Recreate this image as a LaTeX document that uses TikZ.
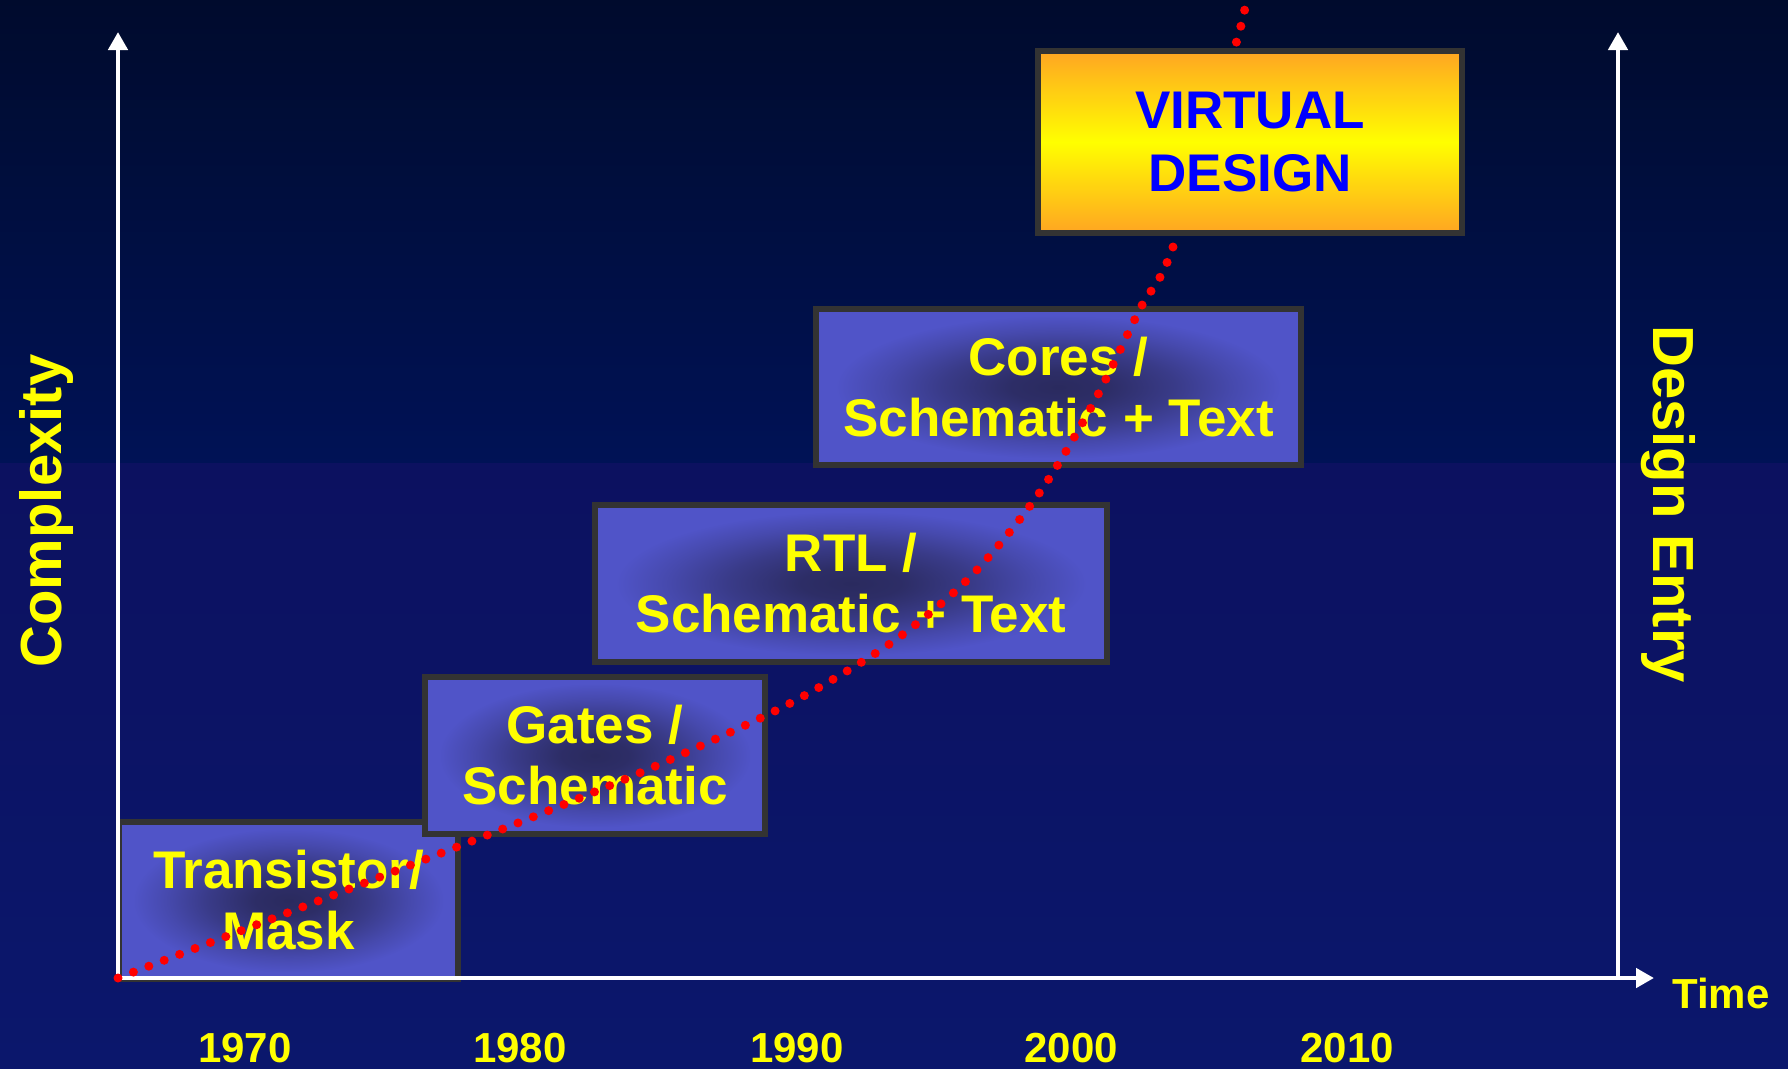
\documentclass[tikz,border=0pt]{standalone}
\usepackage{fontspec}
\setmainfont{Liberation Sans}
\usetikzlibrary{arrows.meta}

% palette
\definecolor{bgtop}{HTML}{000B2D}
\definecolor{bgmid}{HTML}{001256}
\definecolor{bglow}{HTML}{0C1160}
\definecolor{bgbot}{HTML}{0B176C}
\definecolor{boxedge}{HTML}{5054C8}
\definecolor{boxcore}{HTML}{2A2A5E}
\colorlet{boxinner}{boxcore!92!boxedge}
\colorlet{boxmid}{boxcore!60!boxedge}
\colorlet{boxouter}{boxcore!25!boxedge}
\definecolor{frame}{HTML}{333333}
\definecolor{vorange}{HTML}{FFA522}
\definecolor{labelyellow}{HTML}{FFFF00}
\definecolor{vblue}{HTML}{0000FF}
\definecolor{dotred}{HTML}{FF0000}

% soft dark centre of the stage boxes
\pgfdeclareradialshading{boxglow}{\pgfpoint{0bp}{0bp}}{%
  color(0bp)=(boxcore); color(5bp)=(boxinner); color(12bp)=(boxmid);
  color(18bp)=(boxouter); color(23bp)=(boxedge); color(50bp)=(boxedge)}

\tikzset{
  stagebox/.style={draw=frame, line width=6pt, shading=boxglow,
    text=labelyellow, align=center, inner sep=0pt,
    font=\fontsize{53}{61}\selectfont\bfseries},
  goalbox/.style={draw=frame, line width=6pt,
    top color=vorange, bottom color=vorange, middle color=labelyellow,
    text=vblue, align=center, inner sep=0pt,
    font=\fontsize{53}{63}\selectfont\bfseries},
  axisline/.style={draw=white, line width=4.5pt,
    -{Triangle[length=18pt,width=19pt]}},
  axislabel/.style={text=labelyellow, inner sep=0pt,
    font=\fontsize{58}{64}\selectfont\bfseries},
  yearlabel/.style={text=labelyellow, inner sep=0pt, anchor=base,
    font=\fontsize{42}{48}\selectfont\bfseries},
  trend/.style={draw=dotred, line width=9pt, line cap=round,
    dash pattern=on 0pt off 16.5pt}
}

\begin{document}
\begin{tikzpicture}[x=1pt, y=-1pt]
  \useasboundingbox (0,0) rectangle (1788,1068);

  % background
  \shade[top color=bgtop, bottom color=bgmid] (0,0) rectangle (1788,464);
  \shade[top color=bglow, bottom color=bgbot] (0,463) rectangle (1788,1068);

  % design-entry stages
  \node[stagebox, minimum width=339pt, minimum height=157pt] (mask) at (288.5,900.5) {Transistor/\\Mask};
  \node[stagebox, minimum width=340pt, minimum height=157pt] (gates) at (595,755.5) {Gates /\\Schematic};
  \node[stagebox, minimum width=512pt, minimum height=157pt] (rtl) at (851,583.5) {RTL /\\Schematic + Text};
  \node[stagebox, minimum width=485pt, minimum height=156pt] (cores) at (1058.5,387) {Cores /\\Schematic + Text};

  % axes
  \coordinate (origin) at (118,978);
  \coordinate (ytop) at (118,32);
  \coordinate (xend) at (1654,978);
  \coordinate (rbase) at (1618,978);
  \coordinate (rtop) at (1618,32);
  \draw[axisline] (origin) -- (ytop);
  \draw[axisline] (origin) -- (xend);
  \draw[axisline] (rbase) -- (rtop);

  % complexity trend
  \draw[trend] plot[smooth, tension=0.55] coordinates {
    (118,978) (300,908) (490,834) (587,795) (667,761) (777,710)
    (852,668) (910,629) (975,572) (1040,492) (1094,402) (1140,309)
    (1173,247) (1239,33) (1246,-12)};

  % next stage
  \node[goalbox, minimum width=424pt, minimum height=182pt] (virtual) at (1250,142) {VIRTUAL\\DESIGN};

  % axis labels
  \node[axislabel, rotate=90, anchor=base] (complexity) at (61,511) {Complexity};
  \node[axislabel, rotate=-90, anchor=base] (entry) at (1653,504) {Design Entry};
  \node[yearlabel, anchor=base west] (time) at (1672,1008) {Time};

  % years
  \node[yearlabel] (y1970) at (245,1062) {1970};
  \node[yearlabel] (y1980) at (520,1062) {1980};
  \node[yearlabel] (y1990) at (797,1062) {1990};
  \node[yearlabel] (y2000) at (1071,1062) {2000};
  \node[yearlabel] (y2010) at (1347,1062) {2010};
\end{tikzpicture}
\end{document}
